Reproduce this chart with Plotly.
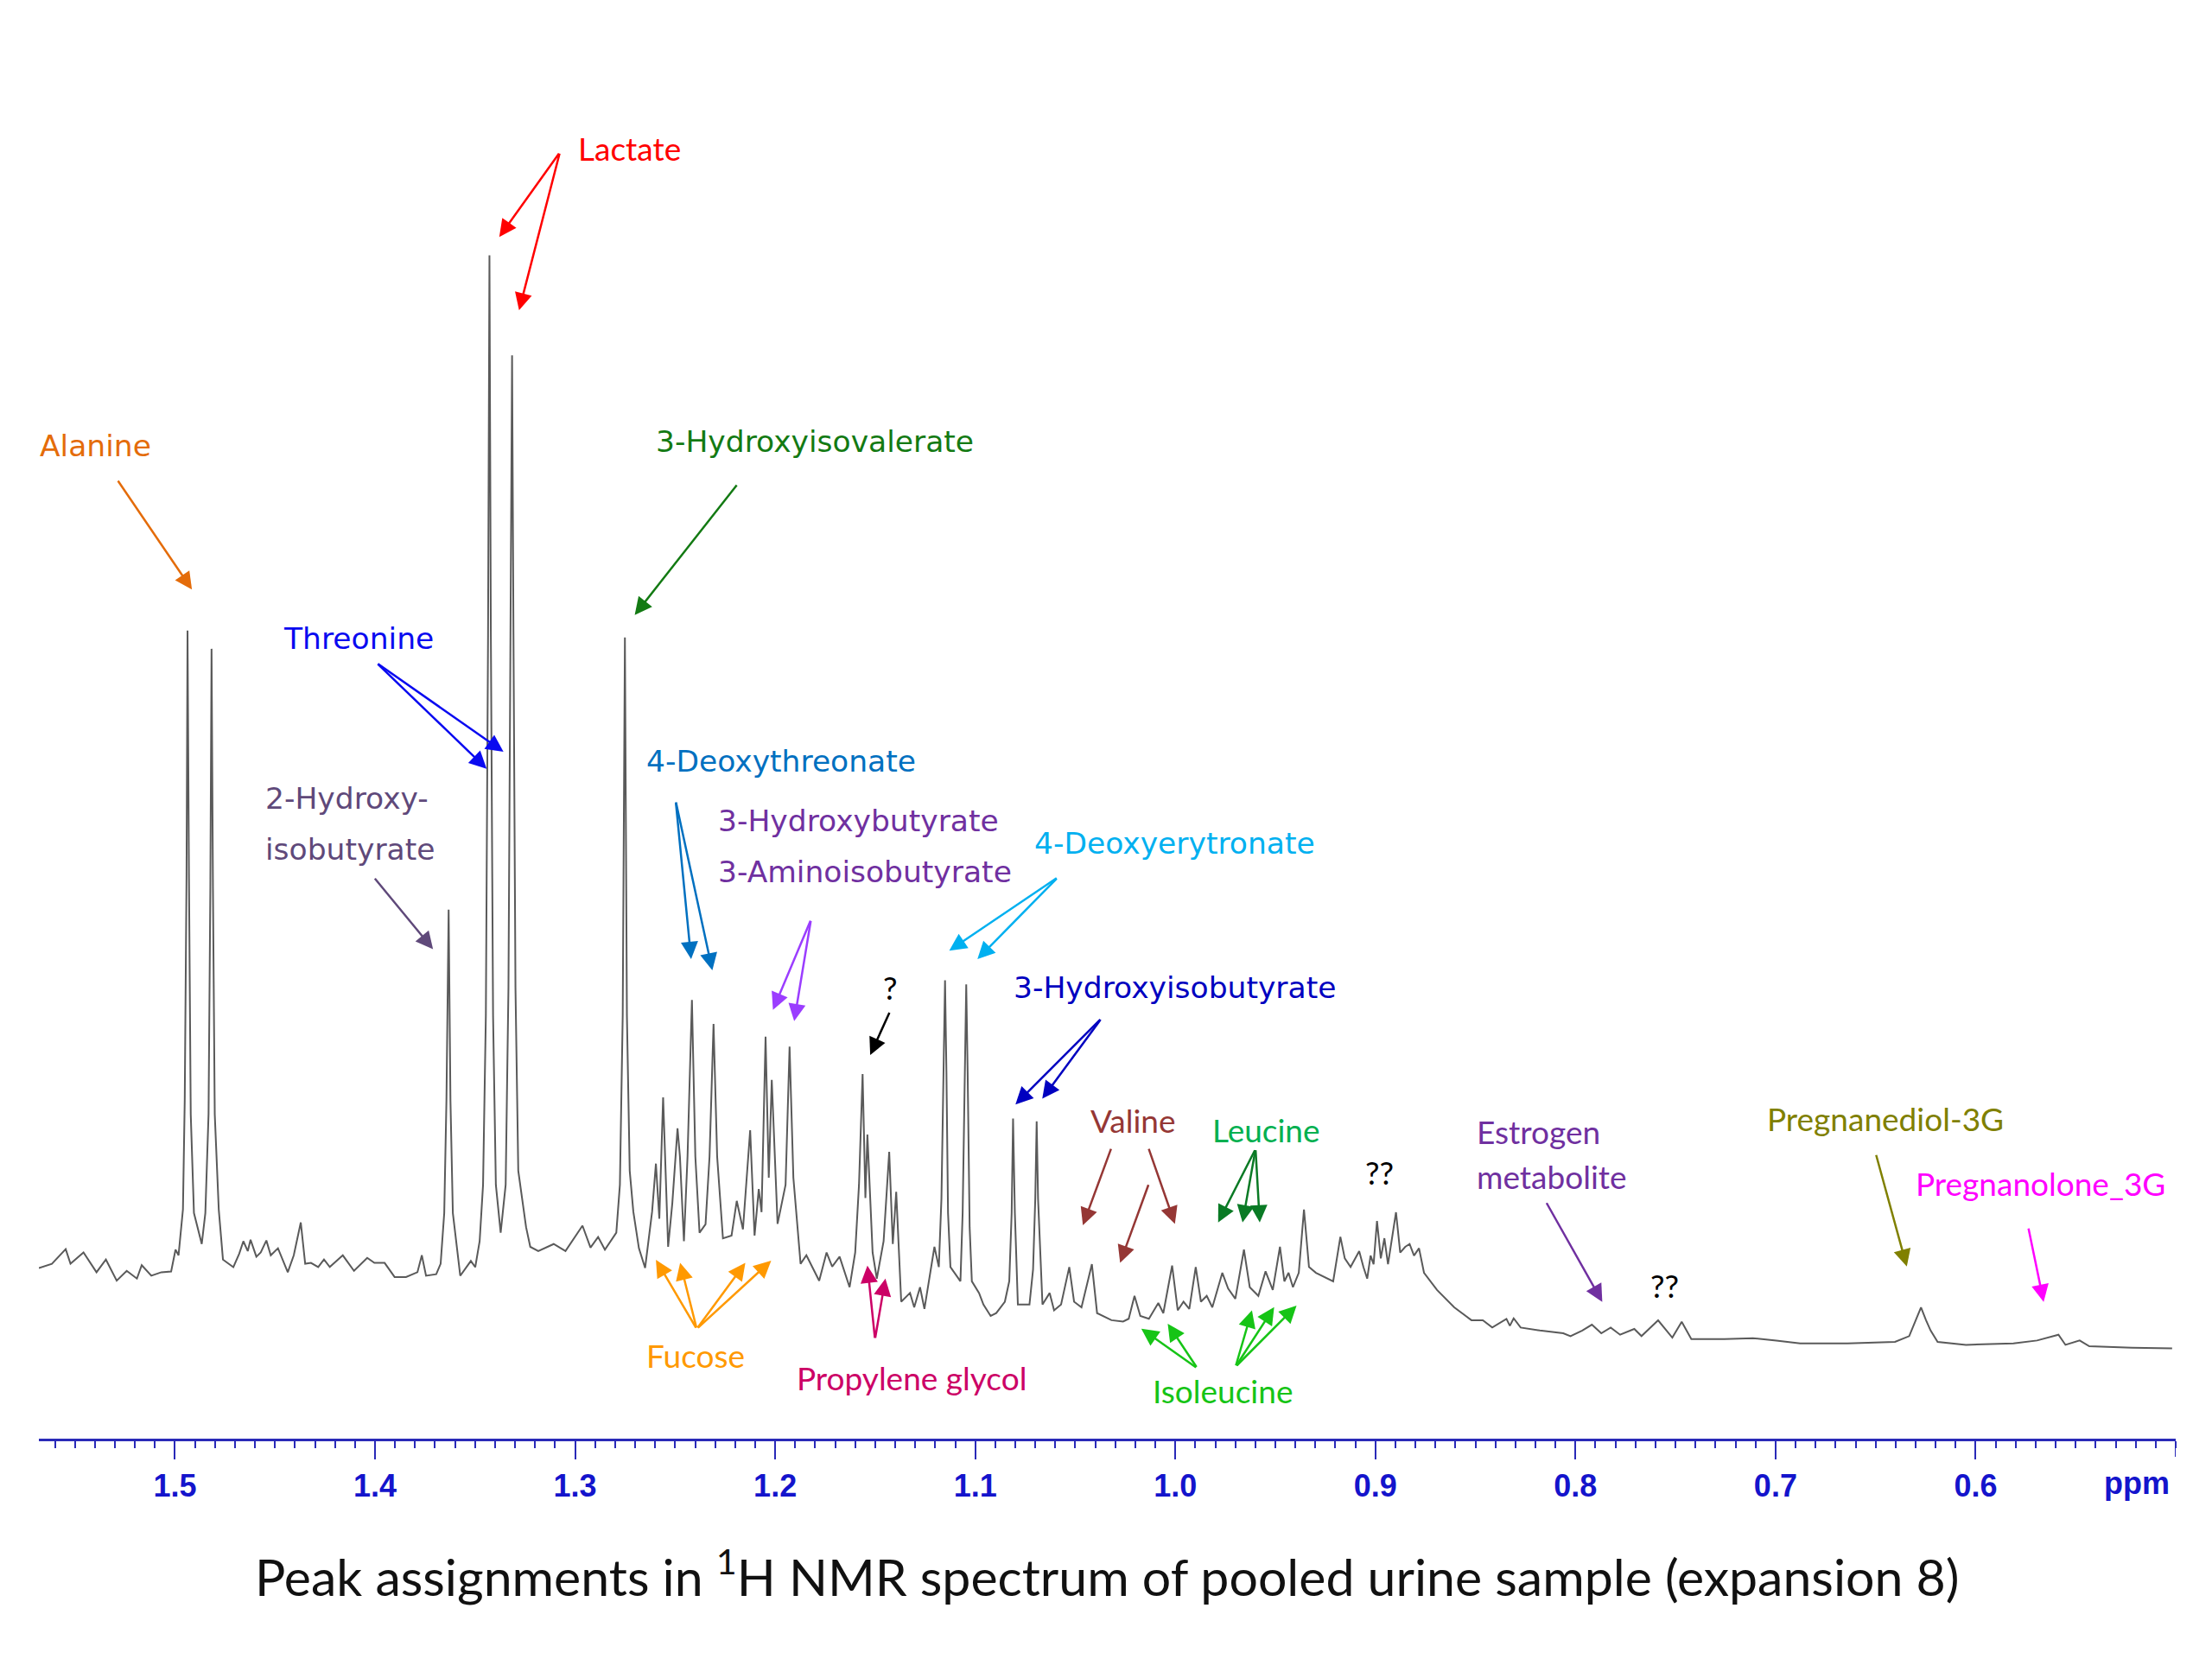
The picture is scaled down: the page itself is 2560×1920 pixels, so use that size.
import plotly.graph_objects as go

# ---------------- data ----------------
ppm = [1.5680, 1.5615, 1.5546, 1.5522, 1.5457, 1.5392, 1.5345, 1.5291, 1.5241, 1.5190,
       1.5166, 1.5118, 1.5068, 1.5019, 1.4997, 1.4982, 1.4960, 1.4951, 1.4942, 1.4937,
       1.4930, 1.4921, 1.4905, 1.4866, 1.4848, 1.4832, 1.4823, 1.4817, 1.4810, 1.4801,
       1.4781, 1.4760, 1.4708, 1.4679, 1.4658, 1.4636, 1.4622, 1.4593, 1.4571, 1.4543,
       1.4521, 1.4485, 1.4436, 1.4406, 1.4371, 1.4349, 1.4320, 1.4284, 1.4255, 1.4226,
       1.4161, 1.4105, 1.4039, 1.4003, 1.3952, 1.3902, 1.3845, 1.3788, 1.3766, 1.3745,
       1.3694, 1.3672, 1.3654, 1.3643, 1.3632, 1.3623, 1.3611, 1.3574, 1.3521, 1.3499,
       1.3477, 1.3460, 1.3446, 1.3435, 1.3428, 1.3421, 1.3410, 1.3396, 1.3372, 1.3347,
       1.3333, 1.3322, 1.3315, 1.3308, 1.3298, 1.3284, 1.3262, 1.3245, 1.3224, 1.3184,
       1.3107, 1.3048, 1.2963, 1.2923, 1.2885, 1.2851, 1.2794, 1.2776, 1.2762, 1.2751,
       1.2741, 1.2727, 1.2709, 1.2681, 1.2650, 1.2615, 1.2596, 1.2579, 1.2560, 1.2535,
       1.2514, 1.2488, 1.2476, 1.2456, 1.2438, 1.2416, 1.2399, 1.2378, 1.2348, 1.2328,
       1.2308, 1.2290, 1.2261, 1.2218, 1.2192, 1.2161, 1.2125, 1.2103, 1.2082, 1.2068,
       1.2048, 1.2032, 1.2017, 1.1988, 1.1948, 1.1928, 1.1909, 1.1873, 1.1844, 1.1817,
       1.1780, 1.1743, 1.1715, 1.1678, 1.1628, 1.1600, 1.1581, 1.1563, 1.1549, 1.1539,
       1.1513, 1.1492, 1.1458, 1.1430, 1.1412, 1.1395, 1.1370, 1.1326, 1.1305, 1.1276,
       1.1254, 1.1204, 1.1182, 1.1169, 1.1158, 1.1151, 1.1144, 1.1136, 1.1124, 1.1074,
       1.1063, 1.1052, 1.1045, 1.1038, 1.1028, 1.1017, 1.0981, 1.0959, 1.0923, 1.0895,
       1.0852, 1.0830, 1.0818, 1.0811, 1.0802, 1.0787, 1.0729, 1.0711, 1.0700, 1.0693,
       1.0686, 1.0664, 1.0628, 1.0606, 1.0571, 1.0530, 1.0506, 1.0469, 1.0417, 1.0391,
       1.0319, 1.0261, 1.0233, 1.0204, 1.0175, 1.0132, 1.0085, 1.0060, 1.0016, 0.9988,
       0.9959, 0.9930, 0.9898, 0.9872, 0.9843, 0.9815, 0.9765, 0.9736, 0.9700, 0.9657,
       0.9628, 0.9585, 0.9549, 0.9513, 0.9477, 0.9455, 0.9434, 0.9412, 0.9383, 0.9357,
       0.9332, 0.9297, 0.9239, 0.9211, 0.9175, 0.9153, 0.9124, 0.9081, 0.9060, 0.9041,
       0.9024, 0.9009, 0.8992, 0.8973, 0.8955, 0.8937, 0.8897, 0.8876, 0.8851, 0.8829,
       0.8807, 0.8782, 0.8757, 0.8692, 0.8606, 0.8520, 0.8463, 0.8416, 0.8345, 0.8328,
       0.8309, 0.8274, 0.8178, 0.8061, 0.8025, 0.7966, 0.7918, 0.7871, 0.7824, 0.7777,
       0.7706, 0.7670, 0.7587, 0.7516, 0.7469, 0.7421, 0.7256, 0.7113, 0.6996, 0.6877,
       0.6640, 0.6403, 0.6332, 0.6305, 0.6273, 0.6248, 0.6225, 0.6190, 0.6048, 0.5811,
       0.5693, 0.5586, 0.5551, 0.5480, 0.5432, 0.5219, 0.5018]

intensity = [61, 64, 74.4, 64, 72, 58, 67, 52, 59, 53.5,
             63, 55.5, 58, 58.5, 74, 70, 102.5, 180, 340, 513,
             340, 170, 100, 78, 100, 170, 330, 500, 330, 170,
             102.5, 67, 61.6, 71, 80, 73, 81, 69, 72, 80.5,
             70, 75, 58, 70, 93.3, 64, 64.6, 61.7, 67, 61.7,
             70, 59, 68.2, 64.6, 64.6, 54.6, 54.6, 58, 70, 55.5,
             56.6, 64, 100, 180, 315, 180, 100, 55.5, 66, 61.6,
             80, 120, 240, 510, 779, 510, 240, 120, 86, 120,
             260, 510, 708, 510, 260, 130, 108, 90, 76, 73,
             78, 73, 91, 75.5, 83, 74, 86, 120, 240, 508,
             240, 130, 101, 75, 61, 101, 135, 96, 182, 76,
             107, 160, 140, 80, 140, 251, 140, 86, 92, 140,
             234, 140, 82, 84, 108.6, 88.4, 158.7, 84, 117, 100.6,
             225, 125, 194.4, 92.3, 120, 218, 125, 64, 70, 62,
             52, 72, 62, 69, 47.4, 72, 120, 198.5, 110.6, 155.6,
             72, 53.5, 80, 143.3, 78, 115, 37.1, 43.3, 33.1, 47.4,
             32, 76, 61.7, 110, 200, 265, 200, 100, 61.7, 51.6,
             100, 200, 262, 200, 90, 51.6, 43.3, 35.1, 27, 29,
             37.1, 51.6, 100, 167, 100, 35.1, 35.1, 60, 110, 165,
             110, 35.1, 43.3, 31, 35.1, 61.7, 37.1, 33.1, 63.7, 29,
             24, 23, 25, 41.2, 27, 25, 36.2, 29, 62.7, 31,
             37.1, 32, 61.7, 37.1, 41.2, 33.1, 57.6, 46.4, 39.2, 74,
             47.4, 41.2, 58.6, 45.4, 76, 51.5, 57.6, 47.4, 57.6, 102.5,
             61.7, 57.6, 53.5, 51.5, 83.1, 67.8, 61.7, 73, 61.7, 53.5,
             69.8, 63.7, 94.3, 67.8, 82.1, 63.7, 100.5, 71.9, 76, 78,
             69.8, 75, 57.6, 45.4, 33.1, 24, 24, 18.8, 24.9, 20,
             25.3, 18.8, 16.7, 14.7, 12.7, 16.7, 20.8, 14.7, 18.8, 13.7,
             17.8, 12.7, 23.9, 11.6, 22.9, 10.6, 10.6, 11.2, 9.6, 7.6,
             7.6, 8.6, 12.7, 22, 33.1, 24, 16.7, 8.6, 6.5, 7.6,
             9.6, 13.7, 6.5, 9.6, 5.5, 4.5, 4]

tick_values = [1.5, 1.4, 1.3, 1.2, 1.1, 1.0, 0.9, 0.8, 0.7, 0.6]
tick_labels = ["1.5", "1.4", "1.3", "1.2", "1.1", "1.0", "0.9", "0.8", "0.7", "0.6"]
axis_unit = "ppm"

title_text = "Peak assignments in <sup>1</sup>H NMR spectrum of pooled urine sample (expansion 8)"

n = min(len(ppm), len(intensity))

# ---------------- styles ----------------
VERD = "DejaVu Sans"
CAL = "Lato"
VS = 34.5
CS = 37
AXIS_BLUE = "#2a2ab8"
TICK_BLUE = "#1414cc"

fig = go.Figure()
fig.add_trace(go.Scatter(x=ppm[:n], y=intensity[:n], mode="lines",
                         line=dict(color="#5a5a5a", width=2), hoverinfo="skip",
                         showlegend=False))

annotations = []


def label(text, x, y, color, family, size, xanchor="center"):
    annotations.append(dict(x=x, y=y, xref="x", yref="y", text=text, showarrow=False,
                            xanchor=xanchor, yanchor="middle",
                            font=dict(family=family, size=size, color=color)))


def arrow(x0, y0, x1, y1, color):
    annotations.append(dict(x=x1, y=y1, ax=x0, ay=y0, xref="x", yref="y",
                            axref="x", ayref="y", text="", showarrow=True,
                            arrowhead=2, arrowsize=1.6, arrowwidth=2.5,
                            arrowcolor=color, standoff=0, startstandoff=0))


# Alanine
c = "#E46C0A"
label("Alanine", 1.5395, 644, c, VERD, VS)
arrow(1.5289, 620, 1.4915, 542, c)
# Lactate
c = "#FF0000"
label("Lactate", 1.2730, 855, c, CAL, CS)
arrow(1.3076, 852, 1.3379, 792, c)
arrow(1.3076, 852, 1.3280, 740, c)
# 3-Hydroxyisovalerate
c = "#137A13"
label("3-Hydroxyisovalerate", 1.1803, 647, c, VERD, VS)
arrow(1.2187, 617, 1.2702, 524, c)
# Threonine
c = "#0A0AF0"
label("Threonine", 1.4084, 507, c, VERD, VS)
arrow(1.3992, 490, 1.3442, 415, c)
arrow(1.3992, 490, 1.3358, 427, c)
# 2-Hydroxyisobutyrate
c = "#5F497A"
label("2-Hydroxy-", 1.4556, 394, c, VERD, VS, "left")
label("isobutyrate", 1.4556, 358, c, VERD, VS, "left")
arrow(1.4006, 338, 1.3710, 287, c)
# 4-Deoxythreonate
c = "#0070C0"
label("4-Deoxythreonate", 1.1972, 420, c, VERD, VS)
arrow(1.2497, 392, 1.2420, 280, c)
arrow(1.2497, 392, 1.2314, 272, c)
# 3-Hydroxybutyrate / 3-Aminoisobutyrate
c = "#7030A0"
label("3-Hydroxybutyrate", 1.2293, 378, c, VERD, VS, "left")
label("3-Aminoisobutyrate", 1.2293, 342, c, VERD, VS, "left")
arrow(1.1821, 308, 1.2011, 244, "#9B3DFF")
arrow(1.1821, 308, 1.1905, 236, "#9B3DFF")
# 4-Deoxyerytronate
c = "#00B0F0"
label("4-Deoxyerytronate", 1.0002, 362, c, VERD, VS)
arrow(1.0587, 338, 1.1130, 286, c)
arrow(1.0587, 338, 1.0989, 280, c)
# ?
label("?", 1.1426, 260, "#000000", CAL, CS)
arrow(1.1426, 243, 1.1525, 212, "#000000")
# 3-Hydroxyisobutyrate
c = "#0000C0"
label("3-Hydroxyisobutyrate", 1.0002, 260, c, VERD, VS)
arrow(1.0369, 238, 1.0799, 177, c)
arrow(1.0369, 238, 1.0665, 181, c)
# Valine
c = "#953735"
label("Valine", 1.0210, 166, c, CAL, CS)
arrow(1.0319, 146.4, 1.0462, 91.3, c)
arrow(1.0135, 146.4, 1.0002, 92.3, c)
arrow(1.0132, 120.9, 1.0276, 64.7, c)
# Leucine
label("Leucine", 0.9544, 159, "#00B050", CAL, CS)
for hx in (0.9786, 0.9664, 0.9578):
    arrow(0.9599, 145.4, hx, 93.3, "#0A7A25")
# ??
label("??", 0.8980, 129, "#000000", CAL, CS)
# Estrogen metabolite
c = "#7030A0"
label("Estrogen", 0.8501, 158, c, CAL, CS, "left")
label("metabolite", 0.8501, 126, c, CAL, CS, "left")
arrow(0.8148, 108, 0.7866, 37, c)
# ??
label("??", 0.7556, 49, "#000000", CAL, CS)
# Pregnanediol-3G
c = "#808000"
label("Pregnanediol-3G", 0.6453, 167, c, CAL, CS)
arrow(0.6499, 142, 0.6344, 62, c)
# Pregnanolone_3G
c = "#FF00FF"
label("Pregnanolone_3G", 0.5677, 121, c, CAL, CS)
arrow(0.5737, 90, 0.5660, 37, c)
# Fucose
c = "#FF9900"
label("Fucose", 1.2399, -1, c, CAL, CS)
for hx, hy in ((1.2596, 66.8), (1.2475, 64.7), (1.2149, 64.7), (1.2020, 66.2)):
    arrow(1.2392, 17.8, hx, hy, c)
# Propylene glycol
c = "#CC0066"
label("Propylene glycol", 1.1320, -17, c, CAL, CS)
arrow(1.1501, 10.6, 1.1539, 62.7, c)
arrow(1.1501, 10.6, 1.1449, 53.5, c)
# Isoleucine
c = "#16C416"
label("Isoleucine", 0.9762, -26, c, CAL, CS)
arrow(0.9890, -10.1, 1.0170, 18, c)
arrow(0.9890, -10.1, 1.0038, 21.5, c)
for hx, hy in ((0.9617, 31), (0.9506, 33.3), (0.9394, 34.4)):
    arrow(0.9699, -9, hx, hy, c)

# axis unit and title
annotations.append(dict(x=0.5195, y=-0.0312, xref="x", yref="paper",
                        text="<b>" + axis_unit + "</b>",
                        showarrow=False, xanchor="center", yanchor="middle",
                        font=dict(family="Liberation Sans", size=36, color=TICK_BLUE)))
annotations.append(dict(x=0.5, y=-0.0935, xref="paper", yref="paper", text=title_text,
                        showarrow=False, xanchor="center", yanchor="middle",
                        font=dict(family=CAL, size=59, color="#111111")))

# end tick at the right edge of the axis (0.50 ppm)
fig.add_shape(type="line", xref="x", yref="paper", x0=0.5, x1=0.5, y0=0, y1=-0.0126,
              line=dict(color=AXIS_BLUE, width=2))

fig.update_layout(
    width=2560, height=1920,
    margin=dict(l=45, r=42, t=0, b=255),
    paper_bgcolor="white", plot_bgcolor="white",
    annotations=annotations,
    showlegend=False,
    xaxis=dict(range=[1.568, 0.5], showgrid=False, zeroline=False,
               showline=True, linecolor=AXIS_BLUE, linewidth=3,
               ticks="outside", ticklen=21, tickwidth=2, tickcolor=AXIS_BLUE,
               tickmode="array", tickvals=tick_values, ticktext=tick_labels,
               ticklabelstandoff=0,
               tickfont=dict(family="Liberation Sans", size=36, color=TICK_BLUE, weight="bold"),
               minor=dict(ticks="outside", ticklen=8, tickwidth=2, tickcolor=AXIS_BLUE,
                          dtick=0.01, tick0=0, showgrid=False)),
    yaxis=dict(range=[-60, 960], visible=False, showgrid=False, zeroline=False),
)

fig.write_html("out.html", config={"displayModeBar": False},
               post_script="document.body.style.margin='0';")
